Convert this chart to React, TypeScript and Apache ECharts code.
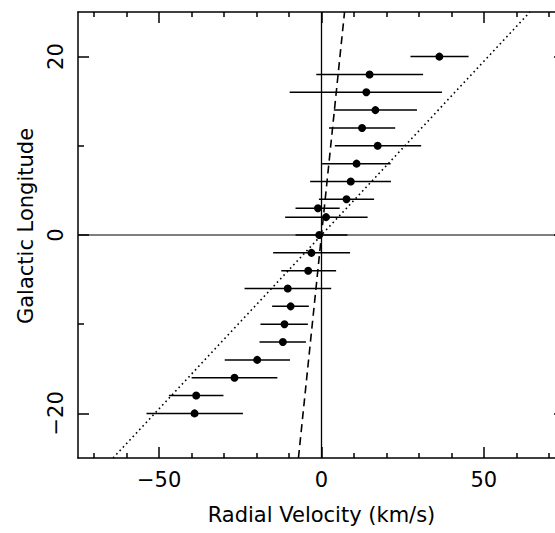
import React, { useEffect, useRef } from "react";
import * as echarts from "echarts";

// Galactic longitude (deg) of each bin
const longitude = [20, 18, 16, 14, 12, 10, 8, 6, 4, 3, 2, 0, -2, -4, -6, -8, -10, -12, -14, -16, -18, -20];
// Mean radial velocity (km/s)
const velocity = [36.3, 14.8, 13.8, 16.6, 12.5, 17.3, 10.8, 9.0, 7.7, -1.1, 1.4, -0.7, -3.1, -4.1, -10.4, -9.5, -11.4, -11.9, -19.8, -26.8, -38.6, -39.1];
// Error bar extents (km/s)
const velLow = [27.4, -1.6, -9.8, 3.8, 2.3, 4.1, 0.2, -3.5, -0.8, -8.0, -11.2, -8.0, -14.9, -12.4, -23.7, -15.2, -18.8, -19.1, -29.8, -40.0, -47.0, -53.9];
const velHigh = [45.3, 31.3, 37.1, 29.4, 22.7, 30.7, 21.3, 21.4, 16.2, 5.6, 14.2, 8.0, 8.8, 4.5, 3.0, -3.9, -4.2, -4.8, -9.7, -13.6, -30.2, -24.2];

// Model lines [velocity, longitude]
const dashedModel = [[-7.1, -25], [7.1, 25]];
const dottedModel = [[-64.2, -25], [64.2, 25]];

const xMajorTicks = [-50, 0, 50];
const xMinorTicks = [-70, -60, -40, -30, -20, -10, 10, 20, 30, 40, 60, 70];
const yMajorTicks = [-20, 0, 20];
const yMinorTicks = [-10, 10];

const FONT = "DejaVu Sans";
const fmt = (v: number) => (v < 0 ? "\u2212" + Math.abs(v) : String(v));

export default function App() {
  const ref = useRef<HTMLDivElement>(null);
  useEffect(() => {
    if (!ref.current) return;
    const chart = echarts.init(ref.current, null, { renderer: "svg" });
    const black = "#000";
    const tickStyle = { color: black, width: 1.5 };
    const mkX = (position: string, ticks: number[], len: number, main: boolean) => ({
      type: "value",
      min: -75,
      max: 75,
      position,
      axisLine: { show: main, onZero: false, lineStyle: { color: black, width: 1.5 } },
      axisTick: { show: true, inside: true, length: len, customValues: ticks, lineStyle: tickStyle },
      axisLabel: {
        show: main && position === "bottom",
        customValues: ticks,
        formatter: fmt,
        margin: 11,
        fontSize: 21,
        fontFamily: FONT,
        color: black,
      },
      splitLine: { show: false },
      ...(main && position === "bottom"
        ? {
            name: "Radial Velocity (km/s)",
            nameLocation: "middle",
            nameGap: 46,
            nameTextStyle: { fontSize: 21, fontFamily: FONT, color: black },
          }
        : {}),
    });
    const mkY = (position: string, ticks: number[], len: number, main: boolean) => ({
      type: "value",
      min: -25,
      max: 25,
      position,
      axisLine: { show: main, onZero: false, lineStyle: { color: black, width: 1.5 } },
      axisTick: { show: true, inside: true, length: len, customValues: ticks, lineStyle: tickStyle },
      axisLabel: {
        show: main && position === "left",
        customValues: ticks,
        formatter: fmt,
        rotate: 90,
        margin: 12,
        fontSize: 21,
        fontFamily: FONT,
        color: black,
      },
      splitLine: { show: false },
      ...(main && position === "left"
        ? {
            name: "Galactic Longitude",
            nameLocation: "middle",
            nameRotate: 90,
            nameGap: 42,
            nameTextStyle: { fontSize: 21, fontFamily: FONT, color: black, padding: [0, 0, 0, 18] },
          }
        : {}),
    });

    const errData = longitude.map((l, i) => [l, velLow[i], velHigh[i]]);
    const pts = longitude.map((l, i) => [velocity[i], l]);

    chart.setOption({
      animation: false,
      backgroundColor: "#fff",
      grid: { left: 78, top: 12, width: 487, height: 446, containLabel: false, outerBoundsMode: "none" },
      xAxis: [
        mkX("bottom", xMajorTicks, 11, true),
        mkX("bottom", xMinorTicks, 5, false),
        mkX("top", xMajorTicks, 11, true),
        mkX("top", xMinorTicks, 5, false),
      ],
      yAxis: [
        mkY("left", yMajorTicks, 11, true),
        mkY("left", yMinorTicks, 6, false),
        mkY("right", yMajorTicks, 11, true),
        mkY("right", yMinorTicks, 6, false),
      ],
      series: [
        {
          type: "line",
          data: [[-75, 0], [75, 0]],
          symbol: "none",
          lineStyle: { color: black, width: 1.2 },
          silent: true,
        },
        {
          type: "line",
          data: [[0, -25], [0, 25]],
          symbol: "none",
          lineStyle: { color: black, width: 1.3 },
          silent: true,
        },
        {
          type: "line",
          data: dashedModel,
          symbol: "none",
          lineStyle: { color: black, width: 1.6, type: [8, 5] },
          silent: true,
        },
        {
          type: "line",
          data: dottedModel,
          symbol: "none",
          lineStyle: { color: black, width: 1.6, type: [1.6, 3.2] },
          silent: true,
        },
        {
          type: "custom",
          data: errData,
          encode: { x: [1, 2], y: 0 },
          renderItem: (params: any, api: any) => {
            const y = api.value(0);
            const p1 = api.coord([api.value(1), y]);
            const p2 = api.coord([api.value(2), y]);
            return {
              type: "line",
              shape: { x1: p1[0], y1: p1[1], x2: p2[0], y2: p2[1] },
              style: { stroke: black, lineWidth: 1.5 },
            };
          },
          silent: true,
        },
        {
          type: "scatter",
          data: pts,
          symbol: "circle",
          symbolSize: 8,
          itemStyle: { color: black, opacity: 1 },
          silent: true,
        },
      ],
    });
    return () => chart.dispose();
  }, []);
  return (
    <div style={{ position: "fixed", left: 0, top: 0, width: 555, height: 533, overflow: "hidden", background: "#fff" }}>
      <div ref={ref} style={{ width: 575, height: 533 }} />
    </div>
  );
}
